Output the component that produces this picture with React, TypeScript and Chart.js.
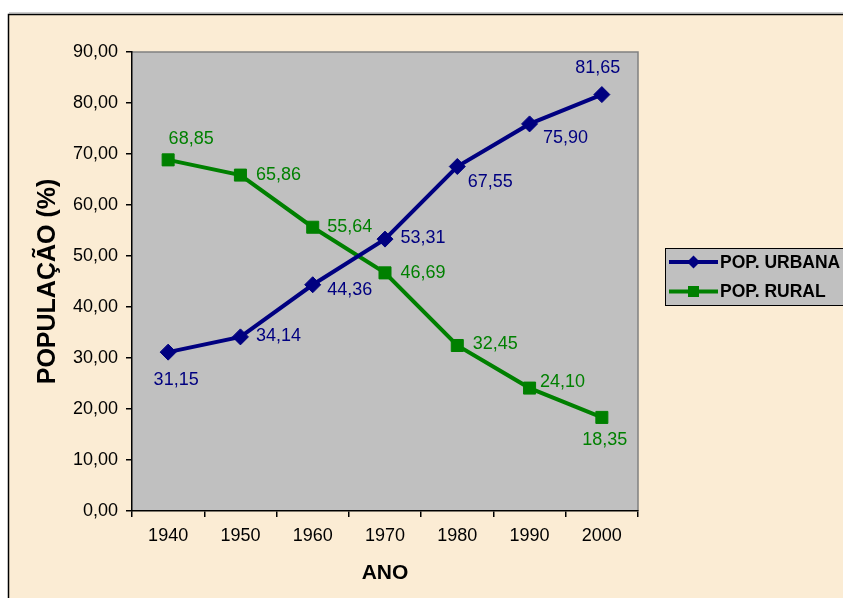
import React, { useEffect, useRef } from "react";
import { Chart, registerables } from "chart.js";

Chart.register(...registerables);

// ---- data ----
const years = ["1940", "1950", "1960", "1970", "1980", "1990", "2000"];
const urbana = [31.15, 34.14, 44.36, 53.31, 67.55, 75.9, 81.65];
const rural = [68.85, 65.86, 55.64, 46.69, 32.45, 24.1, 18.35];
const seriesNames = ["POP. URBANA", "POP. RURAL"];
const yMin = 0;
const yMax = 90;
const yStep = 10;
const xTitle = "ANO";
const yTitle = "POPULAÇÃO (%)";

// ---- styles ----
const URBAN_COLOR = "#000080";
const RURAL_COLOR = "#008000";
const FONT = "'Liberation Sans', Arial, sans-serif";
// label centre offsets relative to each point (style only)
const urbanLabelOffsets: [number, number][] = [
  [8, 28], [38, -1], [37, 5], [38, -1], [33, 16], [36, 14], [-4, -27],
];
const ruralLabelOffsets: [number, number][] = [
  [23, -21], [38, 0], [37, 0], [38, 0], [38, -1], [33, -6], [3, 23],
];

const fmt = (v: number) => v.toFixed(2).replace(".", ",");

const backgroundPlugin = {
  id: "bgPlugin",
  beforeDraw(chart: any) {
    const { ctx, width, height, chartArea } = chart;
    ctx.save();
    ctx.fillStyle = "#ffffff";
    ctx.fillRect(0, 0, width, height);
    ctx.fillStyle = "#FBECD4";
    ctx.fillRect(8, 14, width - 8, height - 14);
    ctx.strokeStyle = "#000000";
    ctx.lineWidth = 1.5;
    ctx.beginPath();
    ctx.moveTo(width, 14.5);
    ctx.lineTo(8.5, 14.5);
    ctx.lineTo(8.5, height);
    ctx.stroke();
    ctx.strokeStyle = "#9a9a9a";
    ctx.lineWidth = 1;
    ctx.beginPath();
    ctx.moveTo(width, 13);
    ctx.lineTo(9, 13);
    ctx.stroke();
    // plot area
    const { left, top, right, bottom } = chartArea;
    ctx.fillStyle = "#C0C0C0";
    ctx.fillRect(left, top, right - left, bottom - top);
    ctx.strokeStyle = "#808080";
    ctx.lineWidth = 1.5;
    ctx.beginPath();
    ctx.moveTo(left, top);
    ctx.lineTo(right, top);
    ctx.lineTo(right, bottom);
    ctx.stroke();
    ctx.restore();
  },
};

const labelsPlugin = {
  id: "pointLabels",
  afterDatasetsDraw(chart: any) {
    const { ctx } = chart;
    const offsets = [urbanLabelOffsets, ruralLabelOffsets];
    ctx.save();
    ctx.font = `18px ${FONT}`;
    ctx.textAlign = "center";
    ctx.textBaseline = "middle";
    chart.data.datasets.forEach((ds: any, di: number) => {
      const meta = chart.getDatasetMeta(di);
      ctx.fillStyle = ds.borderColor;
      meta.data.forEach((pt: any, i: number) => {
        const [dx, dy] = offsets[di][i];
        ctx.fillText(fmt(ds.data[i]), pt.x + dx, pt.y + dy);
      });
    });
    ctx.restore();
  },
};

const legendPlugin = {
  id: "customLegend",
  afterDraw(chart: any) {
    const { ctx, width } = chart;
    const bx = 665.5;
    const by = 248.5;
    const bh = 57;
    ctx.save();
    ctx.fillStyle = "#C0C0C0";
    ctx.fillRect(bx, by, width - bx + 2, bh);
    ctx.strokeStyle = "#000000";
    ctx.lineWidth = 1;
    ctx.strokeRect(bx, by, width - bx + 5, bh);
    const rows = [by + 13.5, by + 43];
    chart.data.datasets.forEach((ds: any, di: number) => {
      const y = rows[di];
      ctx.strokeStyle = ds.borderColor;
      ctx.lineWidth = 4;
      ctx.beginPath();
      ctx.moveTo(669, y);
      ctx.lineTo(718, y);
      ctx.stroke();
      ctx.fillStyle = ds.borderColor;
      ctx.beginPath();
      if (ds.pointStyle === "rectRot") {
        const r = 6.5;
        ctx.moveTo(693.5 - r, y);
        ctx.lineTo(693.5, y - r);
        ctx.lineTo(693.5 + r, y);
        ctx.lineTo(693.5, y + r);
        ctx.closePath();
      } else {
        ctx.rect(688, y - 5.5, 11, 11);
      }
      ctx.fill();
      ctx.fillStyle = "#000000";
      ctx.font = `bold 17.5px ${FONT}`;
      ctx.textAlign = "left";
      ctx.textBaseline = "middle";
      ctx.fillText(ds.label, 720, y + 1);
    });
    ctx.restore();
  },
};

export default function App() {
  const ref = useRef<HTMLCanvasElement | null>(null);

  useEffect(() => {
    if (!ref.current) return;
    const chart = new Chart(ref.current, {
      type: "line",
      data: {
        labels: years,
        datasets: [
          {
            label: seriesNames[0],
            data: urbana,
            borderColor: URBAN_COLOR,
            backgroundColor: URBAN_COLOR,
            borderWidth: 4,
            pointStyle: "rectRot",
            pointRadius: 8,
            pointBorderWidth: 1,
            pointBackgroundColor: URBAN_COLOR,
            pointBorderColor: URBAN_COLOR,
            tension: 0,
          },
          {
            label: seriesNames[1],
            data: rural,
            borderColor: RURAL_COLOR,
            backgroundColor: RURAL_COLOR,
            borderWidth: 4,
            pointStyle: "rect",
            pointRadius: 8.5,
            pointBorderWidth: 1,
            pointBackgroundColor: RURAL_COLOR,
            pointBorderColor: RURAL_COLOR,
            tension: 0,
          },
        ],
      },
      options: {
        responsive: false,
        animation: false,
        devicePixelRatio: 1,
        layout: { padding: { left: 0, right: 205, top: 52, bottom: 0 } },
        plugins: {
          legend: { display: false },
          tooltip: { enabled: false },
        },
        scales: {
          x: {
            type: "category",
            offset: true,
            afterFit: (s: any) => {
              s.height = 87;
            },
            grid: {
              offset: true,
              drawOnChartArea: false,
              drawTicks: true,
              tickLength: 6,
              color: "#000000",
              lineWidth: 1.5,
            },
            border: { color: "#000000", width: 1.5 },
            ticks: {
              color: "#000000",
              font: { family: FONT, size: 18 },
              padding: 8,
              maxRotation: 0,
            },
            title: {
              display: true,
              text: xTitle,
              color: "#000000",
              font: { family: FONT, size: 21, weight: "bold" },
              padding: { top: 0, bottom: 12 },
            },
          },
          y: {
            min: yMin,
            max: yMax,
            afterFit: (s: any) => {
              s.width = 132;
            },
            grid: {
              drawOnChartArea: false,
              drawTicks: true,
              tickLength: 6,
              color: "#000000",
              lineWidth: 1.5,
            },
            border: { color: "#000000", width: 1.5 },
            ticks: {
              stepSize: yStep,
              color: "#000000",
              font: { family: FONT, size: 18 },
              padding: 8,
              callback: (v: any) => fmt(Number(v)),
            },
            title: {
              display: true,
              text: yTitle,
              color: "#000000",
              font: { family: FONT, size: 25, weight: "bold" },
              padding: { top: 33, bottom: 0 },
            },
          },
        },
      } as any,
      plugins: [backgroundPlugin, labelsPlugin, legendPlugin],
    });
    return () => chart.destroy();
  }, []);

  return (
    <canvas
      ref={ref}
      width={843}
      height={598}
      style={{ position: "absolute", left: 0, top: 0, width: 843, height: 598 }}
    />
  );
}
